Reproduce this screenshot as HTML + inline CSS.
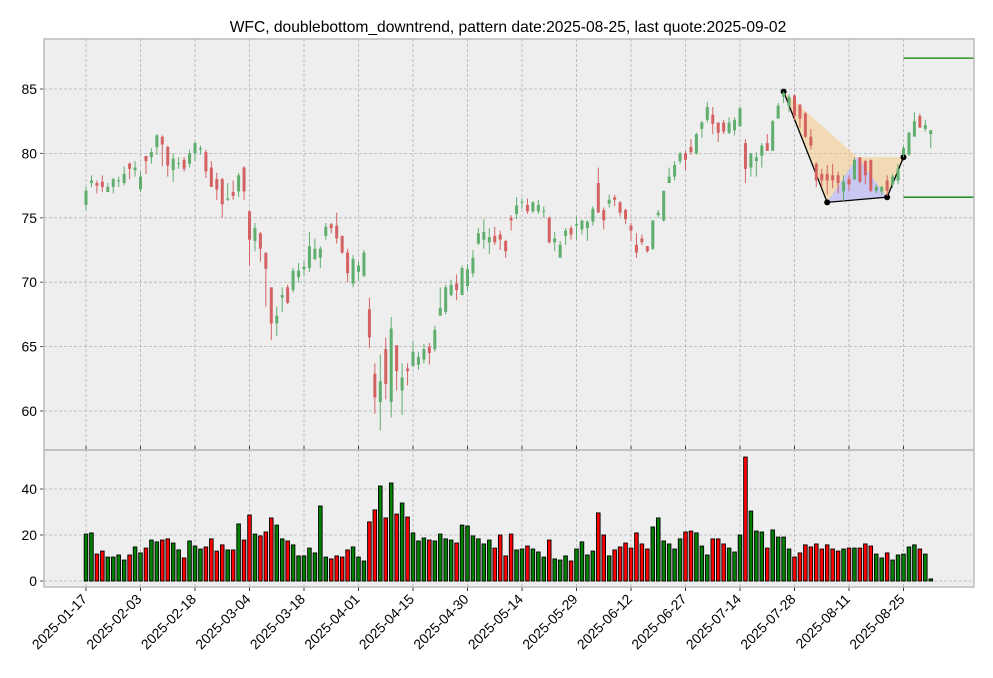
<!DOCTYPE html>
<html><head><meta charset="utf-8"><title>WFC doublebottom_downtrend</title>
<style>
html,body{margin:0;padding:0;background:#fff;}
svg{display:block;font-family:"Liberation Sans","DejaVu Sans",sans-serif;}
</style></head>
<body>
<svg id="chart" width="993" height="678" viewBox="0 0 993 678" xmlns="http://www.w3.org/2000/svg">
  <rect x="0" y="0" width="993" height="678" fill="#ffffff"/>
  <text x="508" y="32" text-anchor="middle" font-size="15.6" fill="#000">WFC, doublebottom_downtrend, pattern date:2025-08-25, last quote:2025-09-02</text>
  <rect x="44" y="39" width="930" height="411" fill="#eeeeee"/>
  <rect x="44" y="450" width="930" height="137" fill="#eeeeee"/>
  <g id="grid"></g>
  <g id="pattern"></g>
  <g id="candles"></g>
  <g id="volume"></g>
  <g id="axes"></g>
  <rect x="44" y="39" width="930" height="411" fill="none" stroke="#bcbcbc" stroke-width="1.5"/>
  <rect x="44" y="450" width="930" height="137" fill="none" stroke="#bcbcbc" stroke-width="1.5"/>
</svg>
<script>
const opens=[76.0,77.7,77.7,77.8,77.0,77.4,77.9,77.7,79.2,78.7,77.2,79.8,79.7,80.5,81.3,80.5,78.7,79.25,79.5,79.2,80.0,80.3,80.1,78.9,78.0,78.0,76.4,77.0,77.05,78.9,
75.5,73.2,73.8,72.3,69.6,66.8,68.8,69.6,69.4,70.4,71.0,71.1,71.8,71.9,73.6,74.5,74.4,73.6,72.3,69.9,70.8,70.5,67.9,62.9,60.7,64.8,60.7,65.1,61.6,63.3,
63.5,63.6,64.0,65.0,64.8,67.4,67.7,69.0,69.9,69.0,69.7,70.7,73.0,73.3,73.1,73.6,73.7,73.2,75.0,75.3,76.2,76.0,75.5,75.5,75.5,75.0,73.1,71.9,73.6,74.2,
74.4,74.1,74.2,74.7,77.7,75.6,76.1,76.6,76.2,75.6,74.4,72.9,73.4,72.8,72.6,75.2,74.8,77.7,78.2,79.4,80.0,80.5,80.0,81.9,82.6,83.0,82.4,82.4,81.6,81.8,
82.1,80.8,78.9,79.4,79.8,80.8,80.2,82.7,84.4,83.7,84.5,83.8,83.1,81.3,79.2,78.4,78.4,78.3,78.3,77.05,78.0,78.0,79.7,79.4,79.5,77.1,77.05,77.9,77.6,77.9,
79.9,79.9,81.3,82.9,81.9,81.5];
const closes=[77.1,77.9,77.5,77.4,77.4,78.0,77.9,78.4,78.8,78.9,78.2,79.4,80.1,81.4,80.7,79.05,79.6,79.25,78.8,80.0,80.8,80.4,78.6,77.4,77.2,76.05,76.5,76.7,78.3,77.05,
73.3,74.2,72.6,71.05,66.8,67.4,69.0,68.4,70.9,70.9,71.2,72.8,72.6,72.6,74.3,74.2,73.4,72.3,70.7,71.8,71.3,72.3,65.7,61.05,62.3,62.1,66.4,63.1,62.6,63.1,
64.6,64.2,64.8,64.5,66.3,68.0,69.6,69.8,69.4,71.1,71.0,71.9,73.8,73.9,73.5,73.1,73.3,72.4,74.8,75.95,76.25,75.5,76.2,76.0,75.55,73.1,73.4,72.9,74.0,73.7,
74.5,74.8,74.7,75.7,75.4,74.8,76.4,76.4,75.4,74.9,74.0,72.3,73.1,72.4,74.8,75.4,77.1,78.2,79.1,80.0,79.5,80.1,81.5,82.4,83.6,82.3,81.6,81.7,82.4,82.6,
83.5,78.8,80.0,79.7,80.6,80.2,82.5,83.7,84.7,84.4,82.9,82.7,81.3,80.6,77.9,77.9,77.9,77.9,77.7,77.8,77.6,79.5,77.8,78.3,77.1,77.4,77.4,77.1,78.2,78.8,
80.4,81.6,82.5,82.0,82.2,81.8];
const highs=[77.4,78.3,77.9,78.3,77.7,78.1,78.2,79.0,79.3,79.4,78.6,79.8,80.4,81.5,81.4,80.6,80.0,79.7,79.7,80.3,80.9,80.6,80.3,79.4,78.5,78.1,77.7,77.9,78.5,79.0,
75.6,74.6,73.9,72.3,69.6,68.1,69.6,69.8,71.1,71.5,71.6,73.9,73.4,72.8,74.6,74.6,75.4,73.6,72.6,72.1,71.6,72.5,68.8,63.7,64.4,65.7,67.3,65.1,63.7,63.7,
65.4,64.6,65.2,65.3,66.6,69.6,69.8,70.2,70.6,71.3,71.4,72.5,74.2,74.9,74.2,74.3,74.0,73.3,75.2,76.6,76.5,76.5,76.3,76.4,75.9,75.1,73.9,73.2,74.2,74.4,
75.1,74.8,74.8,75.9,78.9,75.8,76.8,76.8,76.3,75.7,74.6,73.8,73.7,72.8,74.8,75.6,77.1,78.9,79.4,80.1,80.2,81.1,81.6,82.5,84.0,83.6,82.4,82.6,82.8,82.8,
83.6,81.1,80.0,80.1,80.8,81.5,82.6,83.9,84.8,84.6,84.6,83.8,83.2,81.9,79.3,78.8,79.1,79.2,78.6,78.3,78.3,79.7,79.7,79.5,79.5,77.6,77.5,78.3,78.4,79.2,
80.6,81.7,83.2,83.1,82.6,81.8];
const lows=[75.6,77.4,76.9,77.0,77.0,76.9,77.4,77.5,78.0,78.2,77.0,78.4,79.2,79.9,79.0,78.2,77.8,78.8,78.6,78.9,79.4,79.9,78.1,77.4,76.4,75.0,76.3,76.4,76.6,76.4,
71.3,72.4,71.6,68.1,65.5,65.8,67.7,68.3,69.2,70.0,70.5,70.8,71.7,71.1,73.3,73.8,73.0,72.2,70.0,69.6,70.1,70.4,64.9,59.8,58.5,60.9,59.5,61.6,59.7,62.0,
63.4,63.2,63.7,63.6,64.6,67.4,67.5,68.9,68.6,69.0,69.3,70.4,72.9,72.6,72.2,72.9,72.5,71.9,74.0,74.9,75.7,75.3,75.4,75.3,75.0,73.0,72.4,71.9,72.9,73.3,
73.3,73.7,73.2,74.4,75.4,74.1,75.8,75.9,75.1,74.5,73.2,71.9,72.9,72.3,72.5,75.0,74.7,77.7,77.9,79.2,78.7,79.9,79.9,81.2,82.4,81.5,80.9,81.5,81.5,81.4,
82.1,77.7,78.2,78.2,78.9,80.2,80.2,82.7,83.9,83.2,82.6,82.0,81.2,80.3,77.4,77.4,76.8,77.3,76.9,76.3,77.1,77.9,77.7,77.6,77.0,76.9,76.8,76.7,77.3,77.6,
79.7,79.8,81.3,82.0,81.7,80.4];
const volumes=[20.4,20.9,11.7,13.0,10.4,10.4,11.3,9.1,11.3,14.8,12.2,14.3,17.8,17.0,17.8,18.3,16.5,13.5,10.0,17.4,15.2,13.9,14.8,18.3,13.0,15.7,13.5,13.5,24.8,17.8,
28.7,20.4,19.6,21.3,27.4,24.3,18.3,17.4,15.7,10.9,10.9,14.3,12.2,32.6,10.4,9.6,10.9,10.4,13.5,14.8,10.4,8.7,25.7,30.9,41.3,27.4,42.6,29.1,33.9,27.8,
20.9,17.4,18.7,17.8,17.4,20.4,18.3,17.8,16.5,24.3,23.9,19.6,18.3,16.1,17.8,14.3,20.0,10.9,20.4,13.5,13.9,15.2,13.9,12.6,10.4,17.8,9.6,9.1,10.9,8.7,
13.9,17.0,11.3,13.0,29.6,20.0,10.9,13.5,14.8,16.5,14.3,20.9,16.1,13.9,23.5,27.4,17.4,16.1,13.9,18.3,21.3,21.7,20.9,15.2,11.3,18.3,18.3,16.1,14.3,12.6,
20.0,53.9,30.4,21.7,21.3,14.3,22.2,19.1,19.1,13.9,10.4,12.2,15.7,14.8,16.1,13.9,15.7,13.9,13.0,13.9,14.3,14.3,14.3,16.1,15.2,11.7,10.0,12.2,9.1,11.3,
11.7,14.8,15.7,13.9,11.7,0.9];
const xTickIdx=[0,10,20,30,40,50,60,70,80,90,100,110,120,130,140,150];
const xTickLabels=["2025-01-17","2025-02-03","2025-02-18","2025-03-04","2025-03-18","2025-04-01","2025-04-15","2025-04-30","2025-05-14","2025-05-29","2025-06-12","2025-06-27","2025-07-14","2025-07-28","2025-08-11","2025-08-25"];
const priceTicks=[60,65,70,75,80,85];
const volTicks=[0,20,40];
const patternIdx=[128,136,141.5,147,150];
const patternPrice=[84.8,76.2,79.7,76.6,79.7];
const levelLines=[87.4,76.6];

const NS="http://www.w3.org/2000/svg";
function xs(i){return 86+5.45*i;}
function yp(p){return 89+(85-p)*12.88;}
function yv(v){return 581-v*2.3;}
function mk(tag,attrs,parent){const e=document.createElementNS(NS,tag);for(const k in attrs)e.setAttribute(k,attrs[k]);parent.appendChild(e);return e;}

const grid=document.getElementById('grid');
priceTicks.forEach(p=>{
  const l=mk('line',{x1:44,x2:974,y1:yp(p),y2:yp(p),stroke:'#b2b2b2','stroke-width':0.8,'stroke-dasharray':'3,2'},grid);
  
  
});
volTicks.forEach(v=>{
  const l=mk('line',{x1:44,x2:974,y1:yv(v),y2:yv(v),stroke:'#b2b2b2','stroke-width':0.8,'stroke-dasharray':'3,2'},grid);
  
  
});
xTickIdx.forEach(i=>{
  const l=mk('line',{x1:xs(i),x2:xs(i),y1:39,y2:587,stroke:'#b2b2b2','stroke-width':0.8,'stroke-dasharray':'3,2'},grid);
  
  
});

const pat=document.getElementById('pattern');
const P=patternIdx.map((i,k)=>[xs(i),yp(patternPrice[k])]);
const o1=mk('polygon',{points:[P[0],P[1],P[2]].map(p=>p.join(',')).join(' '),fill:'#f5c57a',opacity:0.5},pat);


const o2=mk('polygon',{points:[P[2],[P[4][0],P[2][1]],P[3]].map(p=>p.join(',')).join(' '),fill:'#f5c57a',opacity:0.5},pat);


const b1=mk('polygon',{points:[P[1],P[2],P[3]].map(p=>p.join(',')).join(' '),fill:'#a9a9f5',opacity:0.55},pat);



const cg=document.getElementById('candles');
for(let i=0;i<opens.length;i++){
  const up=closes[i]>=opens[i];
  const col=up?'#5fae6e':'#d46262';
  const g=mk('g',{},cg);
  
  
  mk('line',{x1:xs(i),x2:xs(i),y1:yp(highs[i]),y2:yp(lows[i]),stroke:col,'stroke-width':1},g);
  const top=yp(Math.max(opens[i],closes[i])),bot=yp(Math.min(opens[i],closes[i]));
  mk('rect',{x:xs(i)-1.5,y:top,width:3,height:Math.max(1,bot-top),fill:col},g);
}

const pl=mk('polyline',{points:P.filter((p,k)=>k!==2).map(p=>p.join(',')).join(' '),fill:'none',stroke:'#000','stroke-width':1.3},pat);


P.forEach((p,k)=>{ if(k===2)return;
  const c=mk('circle',{cx:p[0],cy:p[1],r:3,fill:'#000'},pat);
  
  
});
levelLines.forEach(v=>{
  const l=mk('line',{x1:xs(150),x2:974,y1:yp(v),y2:yp(v),stroke:'#008000','stroke-width':1.3},pat);
  
  
});

const vg=document.getElementById('volume');
for(let i=0;i<volumes.length;i++){
  const up=closes[i]>=opens[i];
  const r=mk('rect',{x:xs(i)-1.8,y:yv(volumes[i]),width:3.6,height:volumes[i]*2.3,fill:up?'#008000':'#ff0000',stroke:'#000','stroke-width':0.9},vg);
  
  
}

const ax=document.getElementById('axes');
priceTicks.forEach(p=>{
  mk('line',{x1:40,x2:44,y1:yp(p),y2:yp(p),stroke:'#555'},ax);
  const t=mk('text',{x:37,y:yp(p)+5,'text-anchor':'end','font-size':13.9,fill:'#000'},ax);
  t.textContent=p;
  
  
});
volTicks.forEach(v=>{
  mk('line',{x1:40,x2:44,y1:yv(v),y2:yv(v),stroke:'#555'},ax);
  const t=mk('text',{x:37,y:yv(v)+5,'text-anchor':'end','font-size':13.9,fill:'#000'},ax);
  t.textContent=v;
  
  
});
xTickIdx.forEach((i,k)=>{
  mk('line',{x1:xs(i),x2:xs(i),y1:446,y2:450,stroke:'#333'},ax);
  mk('line',{x1:xs(i),x2:xs(i),y1:587,y2:591,stroke:'#333'},ax);
  const x=xs(i)+2,y=600;
  const t=mk('text',{x:x,y:y,'text-anchor':'end','font-size':13.9,fill:'#000',transform:`rotate(-45 ${x} ${y})`},ax);
  t.textContent=xTickLabels[k];
  
  
});
</script>
</body></html>
